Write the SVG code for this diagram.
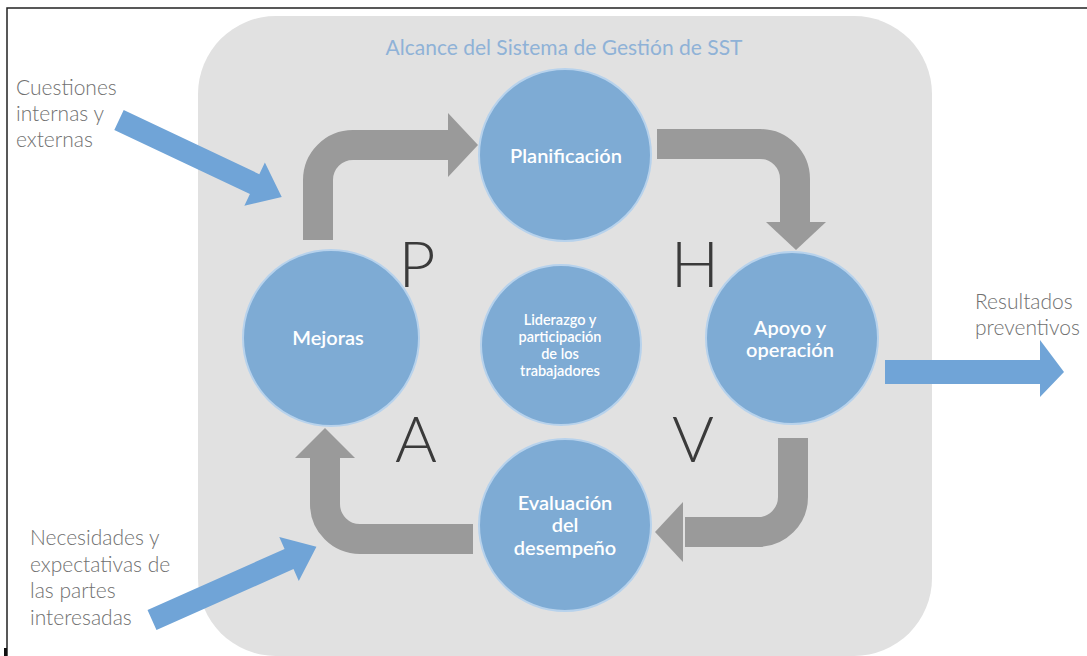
<svg xmlns="http://www.w3.org/2000/svg" width="1087" height="656" viewBox="0 0 1087 656">
<style>
.node circle{fill:#7eabd4;stroke:#b7d2ec;stroke-width:2}
.nt{font-family:Lato,"Open Sans","Liberation Sans",sans-serif;fill:#ffffff;text-anchor:middle;font-weight:600}
.lbl{font-family:Lato,"Liberation Sans",sans-serif;fill:#707070;font-size:21px;font-weight:300}
.big{font-family:Lato,"Liberation Sans",sans-serif;fill:#3a3a3a;font-size:64px;text-anchor:middle;font-weight:300}
.flow{fill:none;stroke:#9a9a9a;stroke-width:30}
.head{fill:#9a9a9a}
.blue{fill:#70a4d7}
</style>
<rect x="0" y="0" width="1087" height="656" fill="#ffffff"/>
<path d="M7,656 V8 H1087" fill="none" stroke="#222" stroke-width="1.5"/>
<rect x="4" y="648" width="3" height="8" fill="#111"/>
<rect id="scope" x="198" y="16" width="734" height="640" rx="78" ry="78" fill="#e1e1e1"/>
<text x="564" y="55" font-family="Lato,'Liberation Sans',sans-serif" font-size="21" fill="#8fb2d7" text-anchor="middle">Alcance del Sistema de Gestión de SST</text>

<g id="connectors">
  <path class="flow" d="M318,240 V180 A35,35 0 0 1 353,145 H450"/>
  <polygon class="head" points="448,113 478,145 448,177"/>
  <path class="flow" d="M657,144 H760 A35,35 0 0 1 795,179 V224"/>
  <polygon class="head" points="766,222 826,222 796,250"/>
  <path class="flow" d="M793,438 V497 A35,35 0 0 1 758,532 H685"/>
  <polygon class="head" points="683,502 683,562 655,532"/>
  <path class="flow" d="M473,539 H360 A35,35 0 0 1 325,504 V456"/>
  <polygon class="head" points="295,458 355,458 325,428"/>
  <g transform="translate(119,120) rotate(25.3)"><polygon class="blue" points="0,-11 150,-11 150,-24 180,0 150,24 150,11 0,11"/></g>
  <g transform="translate(152,620) rotate(-24)"><polygon class="blue" points="0,-11 150,-11 150,-24 180,0 150,24 150,11 0,11"/></g>
  <polygon class="blue" points="885,360 1040,360 1040,340 1064,372 1040,397 1040,384 885,384"/>
</g>

<g id="planificacion" class="node"><circle cx="565" cy="155" r="86"/><text class="nt" x="566" y="163" font-size="20">Planificación</text></g>
<g id="mejoras" class="node"><circle cx="331" cy="338" r="88"/><text class="nt" x="328" y="345" font-size="20">Mejoras</text></g>
<g id="liderazgo" class="node"><circle cx="561" cy="345" r="80"/>
  <text class="nt" x="560" y="325" font-size="14.5">Liderazgo y</text>
  <text class="nt" x="560" y="342" font-size="14.5">participación</text>
  <text class="nt" x="560" y="359" font-size="14.5">de los</text>
  <text class="nt" x="560" y="376" font-size="14.5">trabajadores</text></g>
<g id="apoyo" class="node"><circle cx="792" cy="338" r="86"/>
  <text class="nt" x="790" y="335" font-size="20">Apoyo y</text>
  <text class="nt" x="790" y="357" font-size="20">operación</text></g>
<g id="evaluacion" class="node"><circle cx="565" cy="525" r="86"/>
  <text class="nt" x="565" y="510" font-size="20">Evaluación</text>
  <text class="nt" x="565" y="532" font-size="20">del</text>
  <text class="nt" x="565" y="555" font-size="20">desempeño</text></g>

<text class="big" x="417" y="287">P</text>
<text class="big" x="695" y="287">H</text>
<text class="big" x="416" y="462">A</text>
<text class="big" x="693" y="462">V</text>

<g id="labels">
  <text class="lbl" x="16" y="95">Cuestiones</text>
  <text class="lbl" x="16" y="121">internas y</text>
  <text class="lbl" x="16" y="147">externas</text>
  <text class="lbl" x="30" y="545">Necesidades y</text>
  <text class="lbl" x="30" y="572">expectativas de</text>
  <text class="lbl" x="30" y="598">las partes</text>
  <text class="lbl" x="30" y="625">interesadas</text>
  <text class="lbl" x="975" y="309">Resultados</text>
  <text class="lbl" x="975" y="335">preventivos</text>
</g>
</svg>
